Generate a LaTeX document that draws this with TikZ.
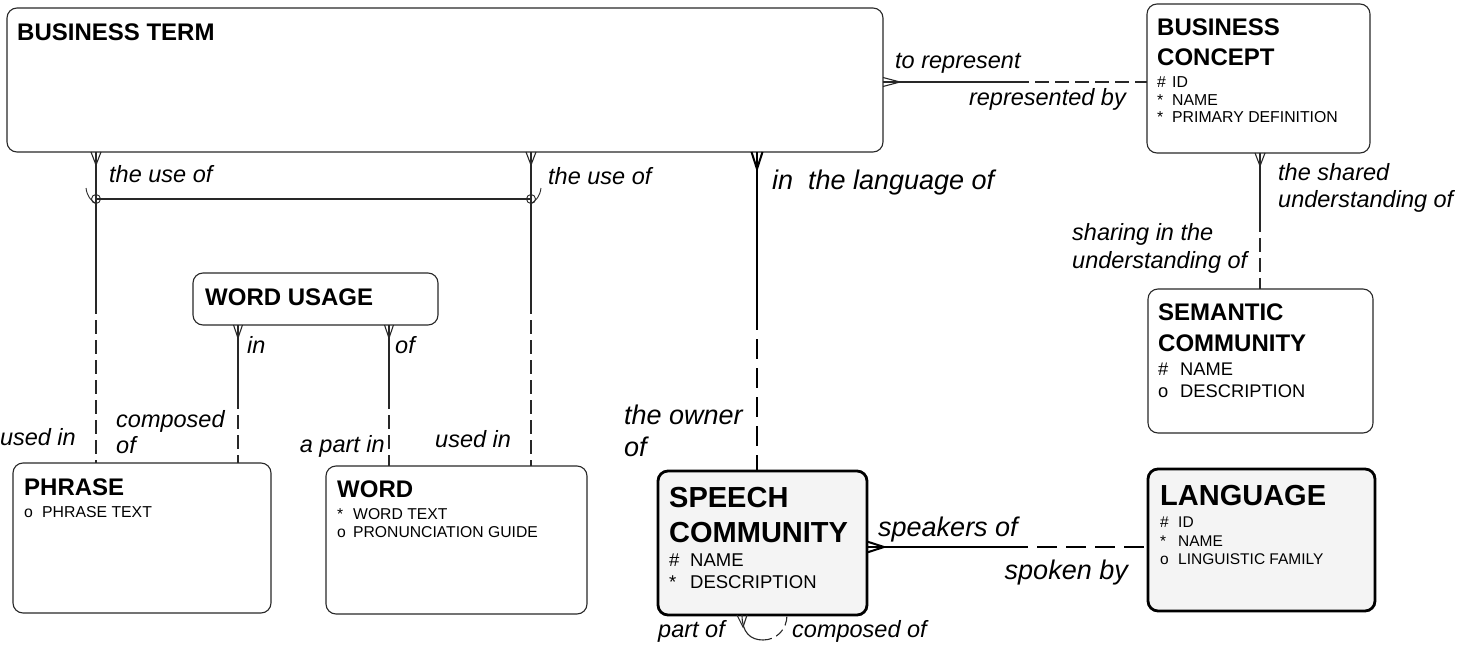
\documentclass[tikz,border=0pt]{standalone}
\usepackage{fontspec}
\setmainfont{Liberation Sans}
\usetikzlibrary{calc}
\definecolor{scfill}{RGB}{244,244,244}
\definecolor{ln}{RGB}{40,40,40}
\newcommand{\attline}[3]{\makebox[#2][l]{#1}#3}
\begin{document}
\begin{tikzpicture}[x=1pt,y=-1pt,
  ent/.style={draw=ln, line width=1.1pt, rounded corners=10pt, anchor=north west, inner sep=0pt, outer sep=0pt},
  entk/.style={ent, draw=black, line width=2.8pt, fill=scfill},
  ttl/.style={font=\fontsize{24}{24}\selectfont\bfseries, anchor=base west, inner sep=0pt},
  ttlb/.style={font=\fontsize{29}{29}\selectfont\bfseries, anchor=base west, inner sep=0pt},
  att/.style={font=\fontsize{16}{16}\selectfont, anchor=base west, inner sep=0pt},
  lbl/.style={font=\fontsize{23.5}{28}\selectfont\itshape, anchor=base west, inner sep=0pt},
  lble/.style={lbl, anchor=base east},
  lblk/.style={lbl, font=\fontsize{27}{30}\selectfont\itshape},
  lblke/.style={lblk, anchor=base east},
  rel/.style={line width=1.1pt, draw=ln},
  relk/.style={line width=2.8pt, draw=black},
  feetk/.style={line width=2pt, draw=black},
  dsh/.style={dash pattern=on 14pt off 6pt},
  dshk/.style={dash pattern=on 20pt off 9pt},
]
\useasboundingbox (0,0) rectangle (1473,653);

% ---------------- entities ----------------
\node[ent, minimum width=876pt, minimum height=144pt] (bt) at (7,8) {};
\node[ent, minimum width=223pt, minimum height=149pt] (bc) at (1147,4) {};
\node[ent, minimum width=225pt, minimum height=144pt] (sem) at (1148,289) {};
\node[ent, minimum width=245pt, minimum height=52pt] (wu) at (193,273) {};
\node[ent, minimum width=258pt, minimum height=150pt] (ph) at (13,463) {};
\node[ent, minimum width=261pt, minimum height=148pt] (wd) at (326,466) {};
\node[entk, minimum width=209pt, minimum height=144pt] (sc) at (658,471) {};
\node[entk, minimum width=227pt, minimum height=142pt] (lang) at (1148,469) {};

% ---------------- entity texts ----------------
\node[ttl] (btT) at (17,40) {BUSINESS TERM};

\node[ttl] (bcT1) at (1157,35) {BUSINESS};
\node[ttl] (bcT2) at (1157,65) {CONCEPT};
\node[att, font=\fontsize{15.8}{16}\selectfont] (bcA1) at (1157,87) {\attline{\#}{15pt}{ID}};
\node[att, font=\fontsize{15.8}{16}\selectfont] (bcA2) at (1157,105) {\attline{*}{15pt}{NAME}};
\node[att, font=\fontsize{15.8}{16}\selectfont] (bcA3) at (1157,122) {\attline{*}{15pt}{PRIMARY DEFINITION}};

\node[ttl] (semT1) at (1158,320) {SEMANTIC};
\node[ttl] (semT2) at (1158,351) {COMMUNITY};
\node[att, font=\fontsize{18.3}{18}\selectfont] (semA1) at (1158,375) {\attline{\#}{22pt}{NAME}};
\node[att, font=\fontsize{18.3}{18}\selectfont] (semA2) at (1158,397) {\attline{o}{22pt}{DESCRIPTION}};

\node[ttl] (wuT) at (205,305) {WORD USAGE};

\node[ttl] (phT) at (24,495) {PHRASE};
\node[att, font=\fontsize{15.8}{16}\selectfont] (phA1) at (24,517) {\attline{o}{18pt}{PHRASE TEXT}};

\node[ttl] (wdT) at (337,497) {WORD};
\node[att, font=\fontsize{15.7}{16}\selectfont] (wdA1) at (337,519) {\attline{*}{16pt}{WORD TEXT}};
\node[att, font=\fontsize{15.7}{16}\selectfont] (wdA2) at (337,537) {\attline{o}{16pt}{PRONUNCIATION GUIDE}};

\node[ttlb] (scT1) at (669,507) {SPEECH};
\node[ttlb] (scT2) at (669,542) {COMMUNITY};
\node[att, font=\fontsize{18.5}{18}\selectfont] (scA1) at (669,566) {\attline{\#}{21pt}{NAME}};
\node[att, font=\fontsize{18.5}{18}\selectfont] (scA2) at (669,588) {\attline{*}{21pt}{DESCRIPTION}};

\node[ttlb] (langT) at (1160,505) {LANGUAGE};
\node[att, font=\fontsize{15.5}{16}\selectfont] (langA1) at (1160,527) {\attline{\#}{18pt}{ID}};
\node[att, font=\fontsize{15.5}{16}\selectfont] (langA2) at (1160,546) {\attline{*}{18pt}{NAME}};
\node[att, font=\fontsize{15.5}{16}\selectfont] (langA3) at (1160,564) {\attline{o}{18pt}{LINGUISTIC FAMILY}};

% ---------------- connector end points ----------------
\coordinate (c1a) at (bt.east |- 0,82);
\coordinate (c1f) at (900,82);
\coordinate (c1m) at (1015,82);
\coordinate (c1b) at (bc.west |- 0,82);

\coordinate (c2a) at (bc.south -| 1260,0);
\coordinate (c2f) at (1260,166);
\coordinate (c2m) at (1260,218);
\coordinate (c2b) at (sem.north -| 1260,0);

\coordinate (c3a) at (bt.south -| 757,0);
\coordinate (c3f) at (757,169);
\coordinate (c3m) at (757,310);
\coordinate (c3b) at (sc.north -| 757,0);

\coordinate (c4a) at (sc.east |- 0,547);
\coordinate (c4f) at (884,547);
\coordinate (c4m) at (1008,547);
\coordinate (c4b) at (lang.west |- 0,547);

\coordinate (c5a) at (bt.south -| 96,0);
\coordinate (c5f) at (96,165);
\coordinate (c5m) at (96,300);
\coordinate (c5b) at (ph.north -| 96,0);

\coordinate (c6a) at (bt.south -| 531,0);
\coordinate (c6f) at (531,165);
\coordinate (c6m) at (531,300);
\coordinate (c6b) at (wd.north -| 531,0);

\coordinate (x1) at (96,199);
\coordinate (x2) at (531,199);

\coordinate (c7a) at (wu.south -| 238,0);
\coordinate (c7f) at (238,338);
\coordinate (c7m) at (238,395);
\coordinate (c7b) at (ph.north -| 238,0);

\coordinate (c8a) at (wu.south -| 389,0);
\coordinate (c8f) at (389,338);
\coordinate (c8m) at (389,395);
\coordinate (c8b) at (wd.north -| 389,0);

\coordinate (c9a) at (sc.south -| 742,0);
\coordinate (c9f) at (743,627);
\coordinate (c9m) at (763,640);
\coordinate (c9b) at (sc.south -| 787,0);

% ---------------- connectors ----------------
% business term -- business concept
\draw[rel] (c1a) -- (c1m);
\draw[rel, dsh] (c1m) -- (c1b);
\draw[rel] ($(c1a)+(0,-4.5)$) -- (c1f) -- ($(c1a)+(0,4.5)$);

% business concept -- semantic community
\draw[rel] (c2a) -- (c2m);
\draw[rel, dsh] (c2m) -- (c2b);
\draw[rel] ($(c2a)+(-5,0)$) -- (c2f) -- ($(c2a)+(5,0)$);

% business term -- speech community (thick)
\draw[relk] (c3a) -- (c3m);
\draw[relk, dshk] (c3m) -- (c3b);
\draw[feetk] ($(c3a)+(-5.5,0)$) -- (c3f) -- ($(c3a)+(5.5,0)$);

% speech community -- language (thick)
\draw[relk] (c4a) -- (c4m);
\draw[relk, dshk] (c4m) -- (c4b);
\draw[feetk] ($(c4a)+(0,-5.5)$) -- (c4f) -- ($(c4a)+(0,5.5)$);

% business term -- phrase / word (exclusive arc)
\draw[rel] (c5a) -- (c5m);
\draw[rel, dsh] (c5m) -- (c5b);
\draw[rel] ($(c5a)+(-5,0)$) -- (c5f) -- ($(c5a)+(5,0)$);
\draw[rel] (c6a) -- (c6m);
\draw[rel, dsh] (c6m) -- (c6b);
\draw[rel] ($(c6a)+(-5,0)$) -- (c6f) -- ($(c6a)+(5,0)$);
\draw[rel, line width=0.9pt] (x1) circle[radius=4.5] (x2) circle[radius=4.5];
\draw[rel] (x1) -- (x2);
\draw[rel, line width=0.9pt] ($(x1)+(-10,-11)$) .. controls ($(x1)+(-9,-3)$) and ($(x1)+(-5,2)$) .. ($(x1)+(0,4.5)$);
\draw[rel, line width=0.9pt] ($(x2)+(10,-11)$) .. controls ($(x2)+(9,-3)$) and ($(x2)+(5,2)$) .. ($(x2)+(0,4.5)$);

% word usage -- phrase
\draw[rel] (c7a) -- (c7m);
\draw[rel, dsh] (c7m) -- (c7b);
\draw[rel] ($(c7a)+(-4.5,0)$) -- (c7f) -- ($(c7a)+(4.5,0)$);

% word usage -- word
\draw[rel] (c8a) -- (c8m);
\draw[rel, dsh] (c8m) -- (c8b);
\draw[rel] ($(c8a)+(-4.5,0)$) -- (c8f) -- ($(c8a)+(4.5,0)$);

% speech community self relationship
\draw[rel] (c9a) .. controls (742,632) and (750,640) .. (c9m);
\draw[rel, dash pattern=on 9pt off 5pt] (c9m) .. controls (776,640) and (787,630) .. (c9b);
\draw[rel] ($(c9a)+(-5,0)$) -- (c9f) -- ($(c9a)+(5,0)$);

% ---------------- relationship labels ----------------
\node[lbl] (l1) at (895,68) {to represent};
\node[lble] (l2) at (1126,105) {represented by};
\node[lbl] (l3) at (1278,180) {the shared};
\node[lbl] (l4) at (1278,207) {understanding of};
\node[lbl] (l5) at (1072,240) {sharing in the};
\node[lbl] (l6) at (1072,268) {understanding of};
\node[lblk] (l7) at (772,189) {in\hspace{0.55em}the language of};
\node[lblk] (l8) at (624,424) {the owner};
\node[lblk] (l9) at (624,456) {of};
\node[lblk] (l10) at (878,536) {speakers of};
\node[lblke] (l11) at (1128,579) {spoken by};
\node[lbl] (l12) at (658,637) {part of};
\node[lbl] (l13) at (792,637) {composed of};
\node[lbl] (l14) at (109,182) {the use of};
\node[lbl] (l15) at (548,184) {the use of};
\node[lble] (l16) at (76,445) {used in};
\node[lbl] (l17) at (116,427) {composed};
\node[lbl] (l18) at (116,453) {of};
\node[lble] (l19) at (385,452) {a part in};
\node[lbl] (l20) at (435,447) {used in};
\node[lbl] (l21) at (247,353) {in};
\node[lbl] (l22) at (395,353) {of};
\end{tikzpicture}
\end{document}
